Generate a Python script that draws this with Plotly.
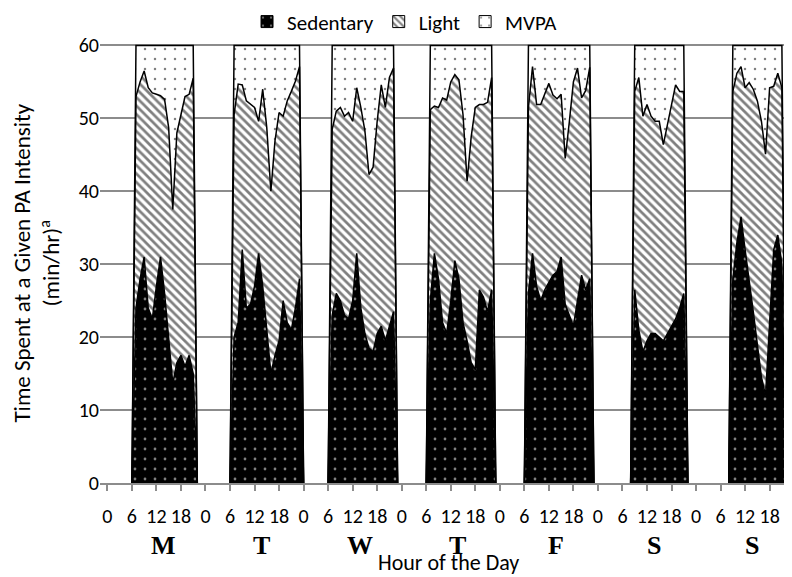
import plotly.graph_objects as go

# ------------------------------------------------------------------ data
# minutes per hour spent in each intensity, one list per day of the week
days = ['M', 'T', 'W', 'T', 'F', 'S', 'S']
first_hour = [7, 7, 7, 7, 7, 9, 9]   # first monitored hour of each day

sedentary = [
    [24, 28, 31, 24, 22.5, 27, 31, 26, 19.5, 13.7, 16.5, 17.5, 16, 17.5, 15],
    [20, 22, 32, 24, 24.5, 27, 31.5, 27, 21, 15, 17.5, 19.5, 25, 22, 21, 24, 28],
    [23, 26, 25, 23, 22.5, 25, 31.5, 24, 20.5, 18.5, 18, 20.5, 21.5, 19.5, 21.5, 23.5],
    [25, 31.5, 28, 22, 20.5, 25, 30.5, 28, 22, 19.5, 16.5, 15.5, 26.5, 25.5, 23.5, 26.5],
    [26, 31.5, 27, 25, 26.5, 27.5, 28.5, 29, 31, 24.5, 23, 21.5, 25, 28.5, 26.5, 28],
    [26.5, 21, 18, 19.5, 20.5, 20.5, 20, 19.5, 20.5, 21.5, 22.5, 24, 26],
    [28, 33, 36.5, 32, 28, 23.5, 19, 14.5, 12, 22, 32, 34, 30],
]
light = [
    [29.0, 27.0, 25.5, 30.2, 31.0, 26.3, 22.1, 26.6, 29.2, 23.8, 31.5, 33.0, 37.0, 35.8, 40.5],
    [30.5, 32.7, 22.6, 28.4, 27.5, 24.5, 18.1, 27.0, 27.7, 25.0, 29.4, 31.3, 25.3, 30.4, 32.7, 31.1, 29.1],
    [25.5, 25.0, 26.5, 27.3, 28.3, 24.6, 22.7, 27.5, 27.8, 23.8, 25.3, 29.1, 33.1, 32.0, 34.1, 33.4],
    [26.2, 20.2, 23.5, 30.8, 32.0, 30.0, 25.5, 27.3, 28.5, 21.9, 31.0, 36.0, 25.4, 26.4, 28.7, 29.1],
    [25.5, 25.6, 24.9, 26.9, 27.0, 27.3, 24.7, 23.7, 22.3, 20.0, 26.5, 33.5, 31.9, 24.3, 27.3, 29.0],
    [27.2, 34.6, 32.3, 32.4, 29.8, 29.1, 29.6, 26.9, 28.7, 30.0, 32.1, 29.7, 27.7],
    [25.7, 23.2, 20.6, 22.2, 26.9, 30.5, 33.4, 35.1, 33.1, 32.2, 22.4, 22.2, 24.2],
]
mvpa = [
    [7.0, 5.0, 3.5, 5.8, 6.5, 6.7, 6.9, 7.4, 11.3, 22.5, 12.0, 9.5, 7.0, 6.7, 4.5],
    [9.5, 5.3, 5.4, 7.6, 8.0, 8.5, 10.4, 6.0, 11.3, 20.0, 13.1, 9.2, 9.7, 7.6, 6.3, 4.9, 2.9],
    [11.5, 9.0, 8.5, 9.7, 9.2, 10.4, 5.8, 8.5, 11.7, 17.7, 16.7, 10.4, 5.4, 8.5, 4.4, 3.1],
    [8.8, 8.3, 8.5, 7.2, 7.5, 5.0, 4.0, 4.7, 9.5, 18.6, 12.5, 8.5, 8.1, 8.1, 7.8, 4.4],
    [8.5, 2.9, 8.1, 8.1, 6.5, 5.2, 6.8, 7.3, 6.7, 15.5, 10.5, 5.0, 3.1, 7.2, 6.2, 3.0],
    [6.3, 4.4, 9.7, 8.1, 9.7, 10.4, 10.4, 13.6, 10.8, 8.5, 5.4, 6.3, 6.3],
    [6.3, 3.8, 2.9, 5.8, 5.1, 6.0, 7.6, 10.4, 14.9, 5.8, 5.6, 3.8, 5.8],
]

tick_hours = [0, 6, 12, 18]

# ------------------------------------------------------------------ styles
series = [
    ('Sedentary', sedentary, dict(shape='.', bgcolor='black', fgcolor='white', size=10, solidity=0.06)),
    ('Light', light, dict(shape='\\', bgcolor='white', fgcolor='black', size=6, solidity=0.45)),
    ('MVPA', mvpa, dict(shape='.', bgcolor='white', fgcolor='black', size=10, solidity=0.05)),
]

fig = go.Figure()

for d in range(len(days)):
    n = len(sedentary[d])
    # hour before and after monitoring are zero so each day closes at the axis
    x = [d * 24 + first_hour[d] - 1 + i for i in range(n + 2)]
    for name, values, pattern in series:
        fig.add_trace(go.Scatter(
            x=x,
            y=[0] + values[d] + [0],
            name=name,
            showlegend=False,
            stackgroup='day%d' % d,
            mode='lines',
            line=dict(color='black', width=1.5),
            fillpattern=pattern,
            hoverinfo='skip'
        ))

# square legend keys (legend only, nothing plotted)
for name, values, pattern in series:
    fig.add_trace(go.Bar(
        x=[None], y=[None],
        name=name,
        marker=dict(color=pattern['bgcolor'], pattern=pattern,
                    line=dict(color='black', width=1)),
        hoverinfo='skip'
    ))

# day letters under the hour labels
for d, letter in enumerate(days):
    fig.add_annotation(
        x=d * 24 + 13.7, xref='x',
        y=-0.142, yref='paper', yanchor='middle',
        text='<b>%s</b>' % letter,
        showarrow=False,
        font=dict(family='Liberation Serif, Times New Roman', size=26, color='black')
    )

# axis titles, placed by hand so they sit where the original has them
fig.add_annotation(
    x=-0.093, xref='paper', xanchor='center',
    y=0.5, yref='paper', yanchor='middle',
    text='Time Spent at a Given PA Intensity<br>(min/hr)<sup>a</sup>',
    textangle=-90,
    showarrow=False,
    font=dict(size=23, color='black')
)
fig.add_annotation(
    x=0.507, xref='paper', xanchor='center',
    y=-0.182, yref='paper', yanchor='middle',
    text='Hour of the Day',
    showarrow=False,
    font=dict(size=22, color='black')
)

# the page adds an 8px body margin, so the figure is 8px smaller than the window
fig.update_layout(
    width=784,
    height=569,
    margin=dict(l=92, r=5, t=36, b=94, autoexpand=False),
    plot_bgcolor='white',
    paper_bgcolor='white',
    font=dict(family='Calibri, Lato, sans-serif', size=20, color='black'),
    legend=dict(
        orientation='h',
        x=0.444, xanchor='center',
        y=1.097, yanchor='top',
        bgcolor='rgba(0,0,0,0)',
        font=dict(size=21),
        traceorder='normal',
        itemwidth=30
    ),
    xaxis=dict(
        range=[-1.8, 166.25],
        tickvals=[d * 24 + h for d in range(len(days)) for h in tick_hours],
        ticktext=[str(h) for d in range(len(days)) for h in tick_hours],
        tickangle=0,
        ticks='outside',
        ticklen=6,
        tickcolor='#8c8c8c',
        tickwidth=1.5,
        ticklabelstandoff=8,
        showline=True,
        linecolor='#8c8c8c',
        linewidth=1.5,
        showgrid=False,
        zeroline=False,
        automargin=False
    ),
    yaxis=dict(
        range=[0, 60.2],
        tickvals=[0, 10, 20, 30, 40, 50, 60],
        showgrid=True,
        gridcolor='#8c8c8c',
        gridwidth=1.5,
        zeroline=False,
        showline=False,
        automargin=False
    )
)

fig.write_html("out.html")
